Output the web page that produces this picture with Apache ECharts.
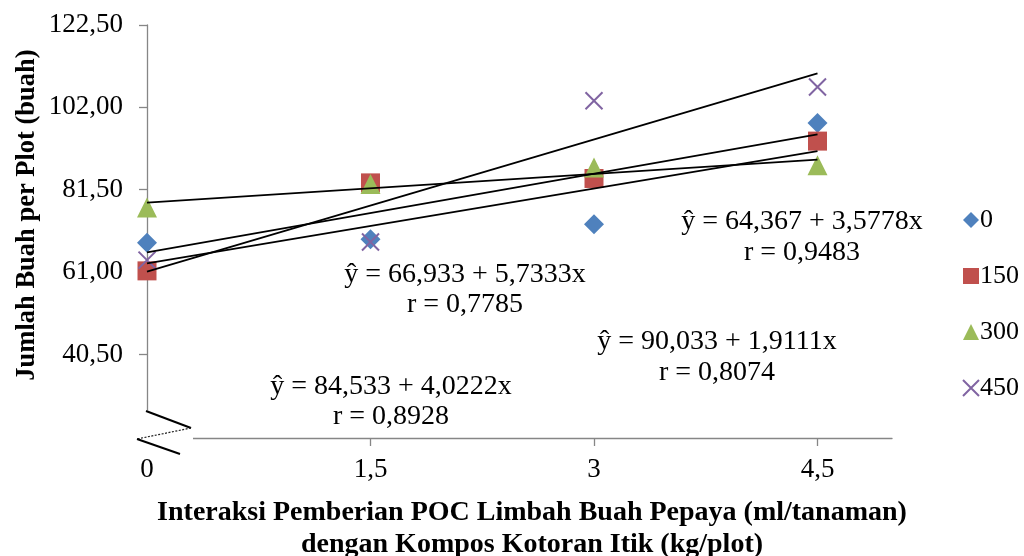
<!DOCTYPE html>
<html><head><meta charset="utf-8">
<script src="https://cdn.jsdelivr.net/npm/echarts@6/dist/echarts.min.js"></script>
<style>html,body{margin:0;padding:0;background:#fff}#c{width:1024px;height:556px}</style>
</head><body><div id="c"></div>
<script>
// ---- data ----
const xValues = [0, 1.5, 3, 4.5];
const seriesNames = ['0', '150', '300', '450'];
const s0   = [68.3, 69.2, 72.9, 98.1];
const s150 = [61.3, 83.2, 84.3, 93.6];
const s300 = [77.1, 82.9, 87.05, 87.6];
const s450 = [63.97, 68.5, 103.65, 107.05];
const yTicks = [40.5, 61, 81.5, 102, 122.5];
const xTicks = [0, 1.5, 3, 4.5];
const eqTexts = [
  ['ŷ = 64,367 + 3,5778x', 'r = 0,9483'],
  ['ŷ = 66,933 + 5,7333x', 'r = 0,7785'],
  ['ŷ = 90,033 + 1,9111x', 'r = 0,8074'],
  ['ŷ = 84,533 + 4,0222x', 'r = 0,8928']
];
const yTitle = 'Jumlah Buah per Plot (buah)';
const xTitle = ['Interaksi Pemberian POC Limbah Buah Pepaya (ml/tanaman)', 'dengan Kompos Kotoran Itik (kg/plot)'];

// ---- layout / style ----
const FONT = "'Liberation Serif', 'Times New Roman', serif";
const colors = ['#4F81BD', '#C0504D', '#9BBB59', '#8064A2'];
const symbols = ['diamond', 'rect', 'triangle', 'path://M0,0L10,10M10,0L0,10'];
const symSizes = [20, 19, 20, 17];
const eqPos = [[802, 222, 253], [465, 275, 305], [717, 342, 373], [391, 387, 417]];
const allSeries = [s0, s150, s300, s450];

function fit(xs, ys) {
  const n = xs.length;
  const mx = xs.reduce((a, b) => a + b, 0) / n;
  const my = ys.reduce((a, b) => a + b, 0) / n;
  let sxy = 0, sxx = 0;
  for (let i = 0; i < n; i++) { sxy += (xs[i] - mx) * (ys[i] - my); sxx += (xs[i] - mx) ** 2; }
  const m = sxy / sxx;
  return { m, b: my - m * mx };
}

const fmtComma = (v, d) => v.toFixed(d).replace('.', ',');

const series = [];
allSeries.forEach((ys, i) => {
  series.push({
    name: seriesNames[i], type: 'scatter', z: 2,
    symbol: symbols[i], symbolSize: symSizes[i],
    itemStyle: i === 3 ? { color: colors[i], borderColor: colors[i], borderWidth: 2, opacity: 1 } : { color: colors[i], opacity: 1 },
    data: xValues.map((x, k) => [x, ys[k]])
  });
});
allSeries.forEach((ys, i) => {
  const f = fit(xValues, ys);
  const x0 = xValues[0], x1 = xValues[xValues.length - 1];
  series.push({
    name: 'trend' + i, type: 'line', z: 5, symbol: 'none', silent: true,
    lineStyle: { color: '#000', width: 1.75 },
    data: [[x0, f.b + f.m * x0], [x1, f.b + f.m * x1]]
  });
});

const axisColor = '#868686';
const labelStyle = { fontFamily: FONT, fontSize: 27, color: '#000' };

const graphics = [];
eqTexts.forEach((t, i) => {
  const p = eqPos[i];
  graphics.push({ type: 'text', x: p[0], y: p[1], style: { text: t[0], align: 'center', verticalAlign: 'middle', fill: '#000', font: '28px ' + FONT } });
  graphics.push({ type: 'text', x: p[0], y: p[2], style: { text: t[1], align: 'center', verticalAlign: 'middle', fill: '#000', font: '28px ' + FONT } });
});
graphics.push({ type: 'text', x: 27, y: 215, rotation: Math.PI / 2, style: { text: yTitle, align: 'center', verticalAlign: 'middle', fill: '#000', font: 'bold 26.5px ' + FONT } });
graphics.push({ type: 'text', x: 532, y: 513, style: { text: xTitle[0], align: 'center', verticalAlign: 'middle', fill: '#000', font: 'bold 28px ' + FONT } });
graphics.push({ type: 'text', x: 532, y: 545, style: { text: xTitle[1], align: 'center', verticalAlign: 'middle', fill: '#000', font: 'bold 28px ' + FONT } });

const chart = echarts.init(document.getElementById('c'), null, { renderer: 'canvas' });
const option = {
  animation: false,
  backgroundColor: '#fff',
  grid: { left: 147, right: 132, top: 25, bottom: 118 },
  legend: {
    orient: 'vertical', left: 957, top: 202, itemWidth: 16, itemHeight: 16, itemGap: 30,
    data: seriesNames,
    textStyle: { fontFamily: FONT, fontSize: 26, color: '#000', lineHeight: 26, padding: [0, 0, 0, -4] }
  },
  xAxis: {
    type: 'value', min: 0, max: 5,
    splitLine: { show: false },
    axisLine: { show: true, lineStyle: { color: axisColor, width: 1.3 } },
    axisTick: { show: true, length: 8, lineStyle: { color: axisColor, width: 1.3 }, customValues: xTicks },
    axisLabel: Object.assign({ margin: 18, customValues: xTicks, formatter: v => fmtComma(v, Number.isInteger(v) ? 0 : 1) }, labelStyle)
  },
  yAxis: {
    type: 'value', min: 19.7, max: 122.5,
    splitLine: { show: false },
    axisLine: { show: true, onZero: false, lineStyle: { color: axisColor, width: 1.3 } },
    axisTick: { show: true, length: 8, lineStyle: { color: axisColor, width: 1.3 }, customValues: yTicks },
    axisLabel: Object.assign({ margin: 24, customValues: yTicks, formatter: v => fmtComma(v, 2) }, labelStyle)
  },
  graphic: graphics,
  series: series
};
chart.setOption(option);

// axis break decoration at the origin corner
const o = chart.convertToPixel({ gridIndex: 0 }, [0, 19.7]);
const ox = o[0], oy = o[1];
graphics.push({ type: 'rect', z: 10, shape: { x: ox - 12, y: oy - 27.5, width: 58, height: 42 }, style: { fill: '#fff' } });
graphics.push({ type: 'polyline', z: 11, shape: { points: [[ox - 1, oy - 27], [ox + 44, oy - 10]] }, style: { stroke: '#000', lineWidth: 2, fill: null } });
graphics.push({ type: 'polyline', z: 11, shape: { points: [[ox + 44, oy - 10], [ox - 10, oy + 1]] }, style: { stroke: '#222', lineWidth: 1.2, lineDash: [2, 1.5], fill: null } });
graphics.push({ type: 'polyline', z: 11, shape: { points: [[ox - 10, oy + 1], [ox + 33, oy + 16]] }, style: { stroke: '#000', lineWidth: 2, fill: null } });
chart.setOption({ graphic: graphics });
</script>
</body></html>
